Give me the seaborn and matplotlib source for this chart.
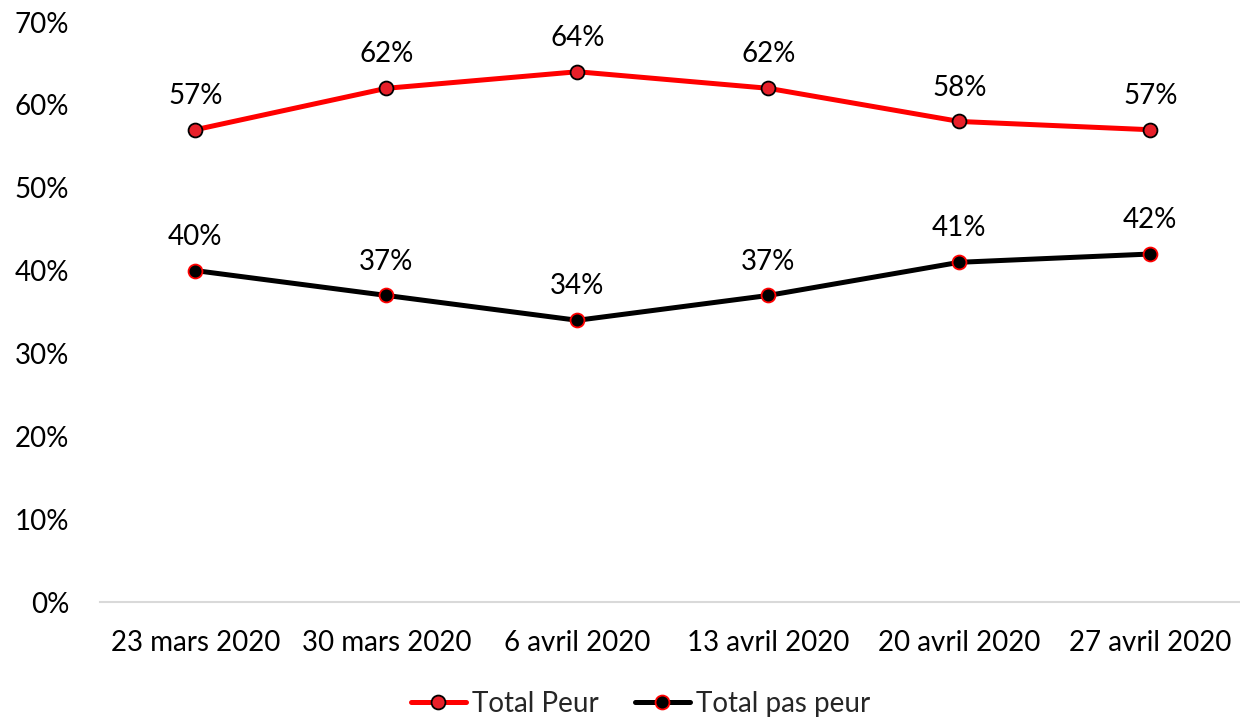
import matplotlib
matplotlib.use("Agg")
import matplotlib.pyplot as plt
import seaborn as sns
import pandas as pd
from matplotlib.ticker import FuncFormatter

categories = ["23 mars 2020", "30 mars 2020", "6 avril 2020", "13 avril 2020", "20 avril 2020", "27 avril 2020"]
peur = [57, 62, 64, 62, 58, 57]
pas_peur = [40, 37, 34, 37, 41, 42]
series_names = ["Total Peur", "Total pas peur"]

sns.set_theme(style="white")
plt.rcParams['font.family'] = ['Lato', 'DejaVu Sans']

df = pd.DataFrame({
    "date": categories * 2,
    "x": list(range(len(categories))) * 2,
    "value": peur + pas_peur,
    "serie": [series_names[0]] * len(categories) + [series_names[1]] * len(categories),
})

fig = plt.figure(figsize=(12.4, 7.22), dpi=100)
ax = fig.add_axes([0.0806, 0.1662, 0.9194, 0.8033])

styles = {
    series_names[0]: dict(color="#FF0000", mfc="#E8202A", mec="#000000"),
    series_names[1]: dict(color="#000000", mfc="#000000", mec="#FF0000"),
}

FS = 20

for name in series_names:
    sub = df[df["serie"] == name]
    st = styles[name]
    sns.lineplot(data=sub, x="x", y="value", ax=ax, color=st["color"], linewidth=3.6,
                 marker="o", markersize=10, markerfacecolor=st["mfc"],
                 markeredgecolor=st["mec"], markeredgewidth=1.3, label=name)
    for xi, v in zip(sub["x"], sub["value"]):
        ax.annotate(f"{v}%", (xi, v), xytext=(0, 15), textcoords="offset points",
                    ha="center", va="bottom", fontsize=FS, color="#000000")

ax.set_xlim(-0.5, 5.47)
ax.set_ylim(0, 70)
ax.set_yticks(range(0, 71, 10))
ax.yaxis.set_major_formatter(FuncFormatter(lambda v, p: f"{int(v)}%"))
ax.set_xticks(range(len(categories)))
ax.set_xticklabels(categories)
ax.tick_params(axis="both", labelsize=FS, length=0, colors="#000000")
ax.tick_params(axis="x", pad=20)
ax.tick_params(axis="y", pad=22)
ax.set_xlabel("")
ax.set_ylabel("")
for s in ["top", "right", "left"]:
    ax.spines[s].set_visible(False)
ax.spines["bottom"].set_color("#D9D9D9")
ax.spines["bottom"].set_linewidth(1.5)
ax.grid(False)

leg = ax.legend(loc="center", bbox_to_anchor=(0.474, -0.175), ncol=2, frameon=False,
                fontsize=FS, handlelength=2.0, columnspacing=1.3, handletextpad=0.2)

fig.savefig("out.png", dpi=100)
